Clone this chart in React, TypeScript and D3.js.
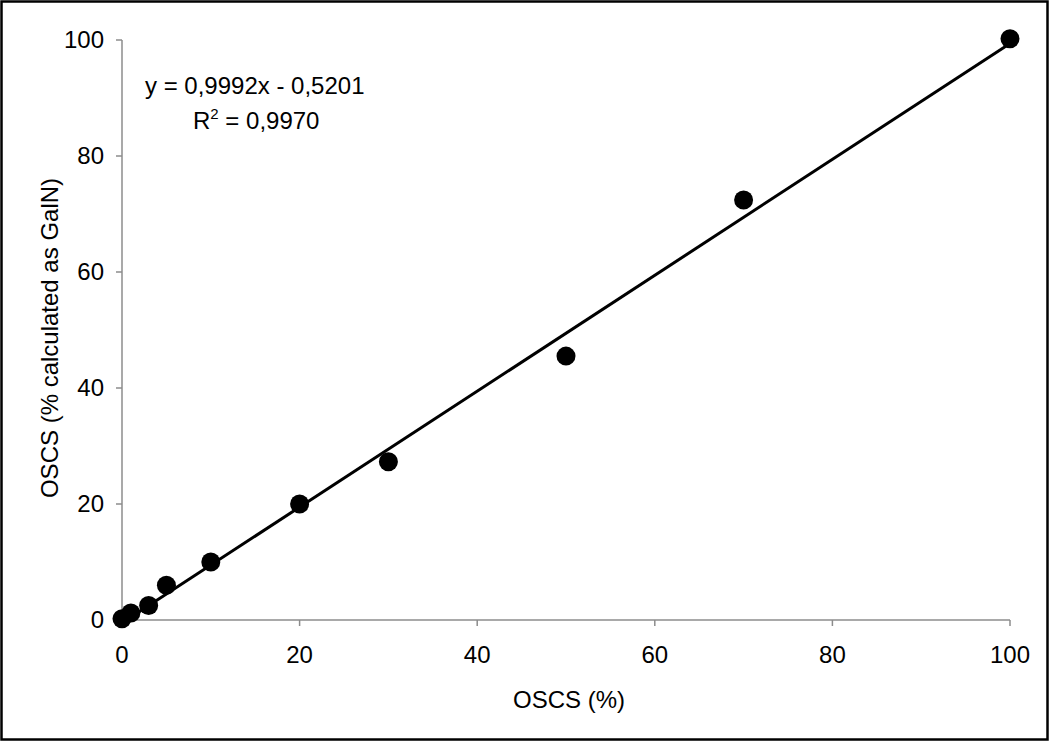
import React from "react";
import * as d3 from "d3";

const xValues = [0, 1, 3, 5, 10, 20, 30, 50, 70, 100];
const yValues = [0.2, 1.2, 2.5, 6.0, 10.0, 20.0, 27.3, 45.5, 72.4, 100.2];
const xTicks = [0, 20, 40, 60, 80, 100];
const yTicks = [0, 20, 40, 60, 80, 100];
const slope = 0.9992;
const intercept = -0.5201;

const W = 1050;
const H = 742;
const FONT = "'Liberation Sans', Arial, Helvetica, sans-serif";

export default function App() {
  const x = d3.scaleLinear().domain([0, 100]).range([122, 1010]);
  const y = d3.scaleLinear().domain([0, 100]).range([620, 40]);
  const line = d3
    .line<number>()
    .x((d) => x(d))
    .y((d) => y(slope * d + intercept));
  const fs = 24;
  return (
    <svg
      width={W}
      height={H}
      style={{ position: "fixed", left: 0, top: 0, background: "#fff" }}
      fontFamily={FONT}
    >
      <rect x={0} y={0} width={W} height={H} fill="#fff" />
      <rect x={1.5} y={1.5} width={1046} height={738} fill="none" stroke="#000" strokeWidth={2.5} />
      {/* axes */}
      <line x1={x(0)} x2={x(0)} y1={y(100)} y2={y(0)} stroke="#8c8c8c" strokeWidth={1.5} />
      <line x1={x(0)} x2={x(100)} y1={y(0)} y2={y(0)} stroke="#8c8c8c" strokeWidth={1.5} />
      {yTicks.map((t) => (
        <g key={"y" + t}>
          <line x1={x(0) - 6} x2={x(0)} y1={y(t)} y2={y(t)} stroke="#8c8c8c" strokeWidth={1.5} />
          <text x={x(0) - 18} y={y(t)} dy="0.35em" textAnchor="end" fontSize={fs} fill="#000">
            {t}
          </text>
        </g>
      ))}
      {xTicks.map((t) => (
        <g key={"x" + t}>
          <line x1={x(t)} x2={x(t)} y1={y(0)} y2={y(0) + 6} stroke="#8c8c8c" strokeWidth={1.5} />
          <text x={x(t)} y={y(0) + 43} textAnchor="middle" fontSize={fs} fill="#000">
            {t}
          </text>
        </g>
      ))}
      {/* trendline */}
      <path d={line([0, 100]) || ""} fill="none" stroke="#000" strokeWidth={3} />
      {/* points */}
      {xValues.map((v, i) => (
        <circle key={i} cx={x(v)} cy={y(yValues[i])} r={9.5} fill="#000" />
      ))}
      {/* annotation */}
      <text x={145} y={94} fontSize={fs} fill="#000">
        y = 0,9992x - 0,5201
      </text>
      <text x={193} y={129} fontSize={fs} fill="#000">
        R<tspan dy={-10} fontSize={15}>2</tspan>
        <tspan dy={10}> = 0,9970</tspan>
      </text>
      {/* axis titles */}
      <text x={569} y={708} textAnchor="middle" fontSize={fs} fill="#000">
        OSCS (%)
      </text>
      <text
        transform={`translate(58, 338) rotate(-90)`}
        textAnchor="middle"
        fontSize={fs}
        fill="#000"
      >
        OSCS (% calculated as GalN)
      </text>
    </svg>
  );
}
